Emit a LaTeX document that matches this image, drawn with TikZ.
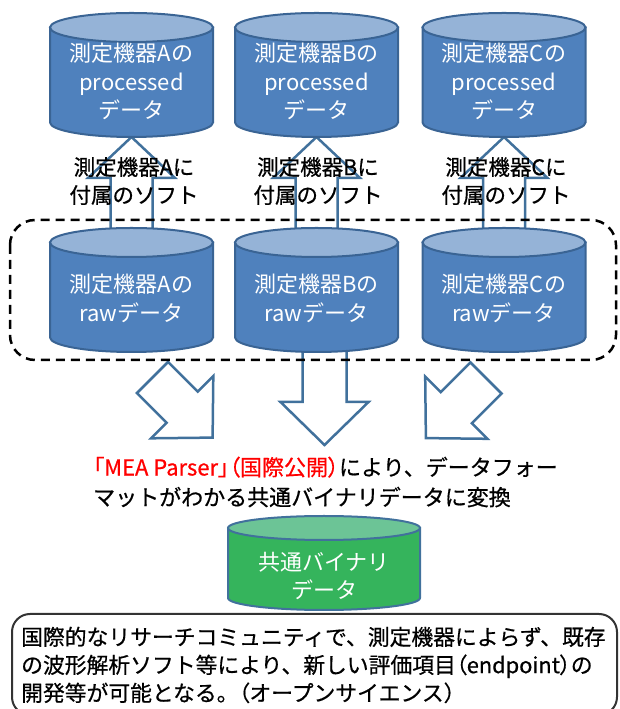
\documentclass[tikz,border=0pt]{standalone}
\usepackage{fontspec}
\setmainfont{Noto Sans CJK JP}
\newfontfamily\pfont[RawFeature=+palt]{Noto Sans CJK JP}
\newfontfamily\medfont[FakeBold=0.6]{Noto Sans CJK JP}
\newfontfamily\medpfont[FakeBold=0.6, RawFeature=+palt]{Noto Sans CJK JP}
\usetikzlibrary{positioning}
\definecolor{dbbody}{HTML}{4F81BD}
\definecolor{dbtop}{HTML}{95B3D7}
\definecolor{dbedge}{HTML}{3A6494}
\definecolor{arrowedge}{HTML}{41719C}
\definecolor{binbody}{HTML}{35B45C}
\definecolor{bintop}{HTML}{6CC496}
\definecolor{boxedge}{HTML}{333333}
\tikzset{
  fatarrow/.style={draw=arrowedge, fill=white, line width=2.5pt, line join=miter},
  dbtext/.style={text=white, align=center, inner sep=0pt, font=\fontsize{22}{28.5}\selectfont},
  lbl/.style={align=center, inner sep=0pt, font=\medfont\fontsize{21.5}{28}\selectfont}
}
\begin{document}
\begin{tikzpicture}[x=1pt, y=1pt]
\useasboundingbox (0,0) rectangle (619,709);
\foreach \c/\x in {A/131.5, B/316.5, C/504} {
  \coordinate (raw\c) at (\x, 475);
  \draw [fatarrow, shift={(raw\c)}, rotate=90] (0,21) -- (56,21) -- (56,43.5) -- (97,0) -- (56,-43.5) -- (56,-21) -- (0,-21) -- cycle;
}
\coordinate (rawBbot) at (324.5, 365);
\coordinate (rawAbot) at (152.5, 331.5);
\coordinate (rawCbot) at (486, 331);
\foreach \s/\a/\l in {rawAbot/-45/42, rawBbot/-90/58, rawCbot/-135/42}
  \draw [fatarrow, shift={(\s)}, rotate=\a] (0,22) -- (\l,22) -- (\l,44) -- (\l+43,0) -- (\l,-44) -- (\l,-22) -- (0,-22) -- cycle;
\foreach \x/\y in {131.5/696, 316.5/696, 504/696, 131.5/481, 316.5/481, 504/481} {
  \filldraw [fill=dbbody, draw=dbedge, line width=2pt] (\x-81.5,\y-14.5) -- (\x-81.5,\y-109.5) arc [start angle=180, end angle=360, x radius=81.5, y radius=14.5] -- (\x+81.5,\y-14.5) -- cycle;
  \filldraw [fill=dbtop, draw=dbedge, line width=2pt] (\x,\y-14.5) ellipse [x radius=81.5, y radius=14.5];
}
\filldraw [fill=binbody, draw=arrowedge, line width=2pt] (228,181) -- (228,111) arc [start angle=180, end angle=360, x radius=96, y radius=12] -- (420,181) -- cycle;
\filldraw [fill=bintop, draw=arrowedge, line width=2pt] (324,181) ellipse [x radius=96, y radius=12];
\node [dbtext] (procA) at (131.5, 627.5) {測定機器Aの\\processed\\データ};
\node [dbtext] (procB) at (316.5, 627.5) {測定機器Bの\\processed\\データ};
\node [dbtext] (procC) at (504, 627.5) {測定機器Cの\\processed\\データ};
\node [dbtext] (rawtxtA) at (131.5, 410.5) {測定機器Aの\\rawデータ};
\node [dbtext] (rawtxtB) at (316.5, 410.5) {測定機器Bの\\rawデータ};
\node [dbtext] (rawtxtC) at (504, 410.5) {測定機器Cの\\rawデータ};
\node [lbl] (softA) at (134, 528) {測定機器Aに\\付属のソフト};
\node [lbl] (softB) at (318, 528) {測定機器Bに\\付属のソフト};
\node [lbl] (softC) at (506, 528) {測定機器Cに\\付属のソフト};
\draw [line width=2.5pt, dash pattern=on 9pt off 6pt, rounded corners=25pt] (10,489) rectangle (616,349);
\node [anchor=west, align=left, inner sep=0pt, font=\medfont\fontsize{22}{30}\selectfont] (conv) at (93, 227) {\textcolor{red}{{\medpfont 「}MEA Parser{\medpfont 」（}国際公開{\medpfont ）}}により、データフォー\\マットがわかる共通バイナリデータに変換};
\node [dbtext] (bin) at (324, 133) {共通バイナリ\\データ};
\draw [boxedge, line width=2pt, rounded corners=18pt] (12,95) rectangle (617,-6);
\node [anchor=west, align=left, inner sep=0pt, font=\medfont\fontsize{21.8}{28}\selectfont] (merit) at (21, 44) {国際的なリサーチコミュニティで、測定機器によらず、既存\\の波形解析ソフト等により、新しい評価項目{\medpfont （}endpoint{\medpfont ）}の\\開発等が可能となる。{\medpfont （}オープンサイエンス）};
\end{tikzpicture}
\end{document}
